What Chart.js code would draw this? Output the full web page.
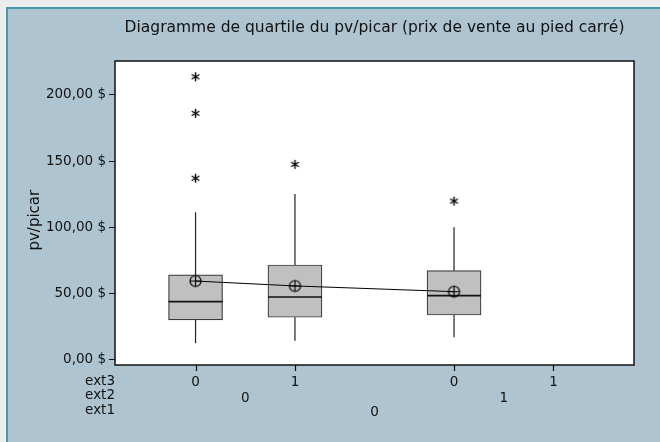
<!DOCTYPE html>
<html>
<head>
<meta charset="utf-8">
<script src="https://cdn.jsdelivr.net/npm/chart.js@4.4.1/dist/chart.umd.min.js"></script>
<style>
  html, body { margin: 0; padding: 0; }
  body { width: 660px; height: 442px; background: #ececec; position: relative; overflow: hidden; }
  #panel {
    position: absolute; left: 6px; top: 7px; right: -20px; bottom: -20px;
    background: #aec5d1;
    border-left: 2px solid #4a98ae;
    border-top: 2px solid #4a98ae;
  }
  #boxChart { position: absolute; left: 0; top: 0; }
</style>
</head>
<body>
<div id="panel"></div>
<canvas id="boxChart" width="660" height="442"></canvas>
<script>
// category levels (ext1 > ext2 > ext3)
const ext3Labels = ["0", "1", "0", "1"];
const ext2Labels = ["0", "1"];
const ext1Labels = ["0"];
const rowNames = ["ext3", "ext2", "ext1"];
const yTicks = [0, 50, 100, 150, 200];

// box statistics per ext3 cell (last cell is empty)
const q1 = [30.2, 32.2, 33.9, null];
const median = [44.0, 47.5, 48.5, null];
const q3 = [64.1, 71.6, 67.3, null];
const whiskerLow = [12.6, 14.5, 17.1, null];
const whiskerHigh = [111.3, 125.1, 100.0, null];
const means = [59.5, 55.8, 51.5, null];
const outliers = [[213.5, 186.0, 137.0], [147.5], [119.8], []];

// where the cells sit on the x axis (gap between the ext2 groups)
const cellX = [0, 1, 2.6, 3.6];
const ext2X = [(cellX[0] + cellX[1]) / 2, (cellX[2] + cellX[3]) / 2];
const ext1X = [(cellX[0] + cellX[3]) / 2];

const FONT = "DejaVu Sans";
const TEXT = "#111";

const filled = cellX.map((_, i) => i).filter(i => q1[i] !== null);

// point images: mean = circle with cross, outlier = asterisk
function makeMeanSymbol() {
  const c = document.createElement("canvas");
  c.width = 15; c.height = 15;
  const g = c.getContext("2d");
  g.strokeStyle = "#000";
  g.lineWidth = 1.2;
  g.beginPath();
  g.arc(7.5, 7.5, 5.5, 0, Math.PI * 2);
  g.moveTo(2, 7.5); g.lineTo(13, 7.5);
  g.moveTo(7.5, 2); g.lineTo(7.5, 13);
  g.stroke();
  return c;
}
function makeStar() {
  const c = document.createElement("canvas");
  c.width = 11; c.height = 11;
  const g = c.getContext("2d");
  g.strokeStyle = "#000";
  g.lineWidth = 1.4;
  g.beginPath();
  for (let k = 0; k < 3; k++) {
    const a = Math.PI / 2 + k * Math.PI / 3;
    g.moveTo(5.5 + 4.5 * Math.cos(a), 5.5 + 4.5 * Math.sin(a));
    g.lineTo(5.5 - 4.5 * Math.cos(a), 5.5 - 4.5 * Math.sin(a));
  }
  g.stroke();
  return c;
}

const boxData = filled.map(i => ({ x: cellX[i], y: [q1[i], q3[i]] }));

const whiskerData = [];
filled.forEach(i => {
  whiskerData.push({ x: cellX[i], y: q3[i] }, { x: cellX[i], y: whiskerHigh[i] }, { x: cellX[i], y: null });
  whiskerData.push({ x: cellX[i], y: q1[i] }, { x: cellX[i], y: whiskerLow[i] }, { x: cellX[i], y: null });
});

const outlierData = [];
outliers.forEach((list, i) => list.forEach(v => outlierData.push({ x: cellX[i], y: v })));

const meanData = filled.map(i => ({ x: cellX[i], y: means[i] }));

// white plot area + black frame + x tick marks
const plotFrame = {
  id: "plotFrame",
  beforeDraw(chart) {
    const { ctx, chartArea: a } = chart;
    ctx.save();
    ctx.fillStyle = "#fff";
    ctx.fillRect(a.left, a.top, a.right - a.left, a.bottom - a.top);
    ctx.restore();
  },
  afterDraw(chart) {
    const { ctx, chartArea: a } = chart;
    const x = chart.scales.x;
    ctx.save();
    ctx.strokeStyle = "#111";
    ctx.lineWidth = 1.5;
    ctx.strokeRect(a.left, a.top, a.right - a.left, a.bottom - a.top);
    ctx.strokeStyle = "#000";
    ctx.lineWidth = 1.2;
    ctx.beginPath();
    cellX.forEach(v => {
      const px = Math.round(x.getPixelForValue(v)) + 0.5;
      ctx.moveTo(px, a.bottom);
      ctx.lineTo(px, a.bottom + 6);
    });
    ctx.stroke();
    ctx.restore();
  }
};

// median line across each box
const medianLines = {
  id: "medianLines",
  afterDatasetDraw(chart, args) {
    if (args.index !== 0) return;
    const { ctx } = chart;
    const y = chart.scales.y;
    ctx.save();
    ctx.strokeStyle = "#111";
    ctx.lineWidth = 1.6;
    args.meta.data.forEach((bar, j) => {
      const py = y.getPixelForValue(median[filled[j]]);
      ctx.beginPath();
      ctx.moveTo(bar.x - bar.width / 2, py);
      ctx.lineTo(bar.x + bar.width / 2, py);
      ctx.stroke();
    });
    ctx.restore();
  }
};

// ext2 / ext1 label rows and row names under the axis
const levelRows = {
  id: "levelRows",
  afterDraw(chart) {
    const { ctx } = chart;
    const x = chart.scales.x;
    ctx.save();
    ctx.font = "13.5px '" + FONT + "'";
    ctx.fillStyle = TEXT;
    ctx.textBaseline = "middle";
    ctx.textAlign = "right";
    const nameY = [381, 395, 410];
    rowNames.forEach((n, r) => ctx.fillText(n, x.left, nameY[r]));
    ctx.textAlign = "center";
    ext2Labels.forEach((t, k) => ctx.fillText(t, x.getPixelForValue(ext2X[k]), 398));
    ext1Labels.forEach((t, k) => ctx.fillText(t, x.getPixelForValue(ext1X[k]), 412));
    ctx.restore();
  }
};

new Chart(document.getElementById("boxChart"), {
  type: "bar",
  data: {
    datasets: [
      {
        type: "bar",
        data: boxData,
        backgroundColor: "#c0c0c0",
        borderColor: "#3a3a3a",
        borderWidth: 1.2,
        borderSkipped: false,
        barThickness: 54,
        order: 3
      },
      {
        type: "line",
        data: whiskerData,
        borderColor: "#222",
        borderWidth: 1.2,
        pointRadius: 0,
        spanGaps: false,
        order: 4
      },
      {
        type: "line",
        data: outlierData,
        showLine: false,
        pointStyle: makeStar(),
        pointRadius: 5,
        order: 2
      },
      {
        type: "line",
        data: meanData,
        borderColor: "#000",
        borderWidth: 1,
        pointStyle: makeMeanSymbol(),
        pointRadius: 6,
        order: 1
      }
    ]
  },
  options: {
    responsive: false,
    animation: false,
    layout: { padding: { left: 0, right: 26, top: 0, bottom: 0 } },
    plugins: {
      legend: { display: false },
      tooltip: { enabled: false },
      title: {
        display: true,
        fullSize: false,
        text: "Diagramme de quartile du pv/picar (prix de vente au pied carré)",
        color: TEXT,
        font: { family: FONT, size: 15.5, weight: "normal" },
        padding: { top: 18.5, bottom: 23.9 }
      }
    },
    scales: {
      x: {
        type: "linear",
        min: -0.81,
        max: 4.41,
        offset: false,
        afterFit: s => { s.height = 77; },
        afterBuildTicks: s => { s.ticks = cellX.map(v => ({ value: v })); },
        grid: { display: false, tickLength: 5 },
        border: { display: false },
        ticks: {
          padding: 4,
          color: TEXT,
          font: { family: FONT, size: 13.5 },
          maxRotation: 0,
          autoSkip: false,
          callback: (v, idx) => ext3Labels[idx]
        }
      },
      y: {
        min: -3.8,
        max: 225.4,
        afterFit: s => { s.width = 115; },
        afterBuildTicks: s => { s.ticks = yTicks.map(v => ({ value: v })); },
        grid: { drawOnChartArea: false, tickLength: 6, tickColor: "#111" },
        border: { display: false },
        title: {
          display: true,
          text: "pv/picar   ",
          color: TEXT,
          font: { family: FONT, size: 15 },
          padding: { top: 26, bottom: 0 }
        },
        ticks: {
          padding: 3,
          color: TEXT,
          font: { family: FONT, size: 13.5 },
          callback: v => v.toFixed(2).replace(".", ",") + " $"
        }
      }
    }
  },
  plugins: [plotFrame, medianLines, levelRows]
});
</script>
</body>
</html>
